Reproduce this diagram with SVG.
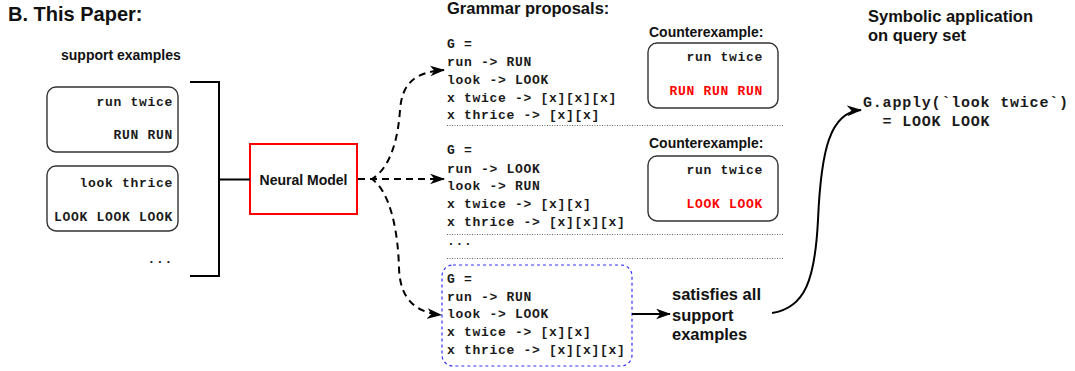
<svg xmlns="http://www.w3.org/2000/svg" width="1075" height="371" viewBox="0 0 1075 371">
<defs>
<style>
.t{font-family:"Liberation Sans",Arial,sans-serif;font-weight:bold;fill:#111}
.m{font-family:"Liberation Mono","Courier New",monospace;font-weight:bold;font-size:13px;letter-spacing:0.7px;fill:#1a1a1a}
.q{font-family:"Liberation Mono","Courier New",monospace;font-weight:bold;font-size:15px;letter-spacing:0.8px;fill:#1a1a1a}
.red{fill:#ff0000}
.box{fill:#fff;stroke:#333;stroke-width:1.4}
.dot{stroke:#666;stroke-width:1;stroke-dasharray:1 1.5;fill:none}
.dash{fill:none;stroke:#000;stroke-width:2;stroke-dasharray:7 5}
.solid{fill:none;stroke:#000;stroke-width:2}
</style>
<marker id="ah" viewBox="0 0 14 10" refX="13" refY="5" markerWidth="15" markerHeight="11" markerUnits="userSpaceOnUse" orient="auto">
<path d="M0,0 L14,5 L0,10 L4,5 Z" fill="#000" stroke="none"/>
</marker>
</defs>
<rect width="1075" height="371" fill="#fff"/>

<text class="t" x="8" y="21" font-size="20">B. This Paper:</text>
<text class="t" x="61" y="60" font-size="14">support examples</text>

<g id="support1">
<rect class="box" x="47" y="87" width="131" height="65" rx="9"/>
<text class="m" x="173" y="106" text-anchor="end">run twice</text>
<text class="m" x="173" y="139" text-anchor="end">RUN RUN</text>
</g>
<g id="support2">
<rect class="box" x="47" y="166" width="131" height="65" rx="9"/>
<text class="m" x="173" y="187" text-anchor="end">look thrice</text>
<text class="m" x="173" y="221" text-anchor="end">LOOK LOOK LOOK</text>
</g>
<text class="m" x="173" y="263" text-anchor="end">...</text>

<g id="neural">
<rect x="250" y="144" width="107" height="70" fill="#fff" stroke="#ff0000" stroke-width="2"/>
<text class="t" x="303.5" y="185" font-size="14" text-anchor="middle">Neural Model</text>
</g>

<text class="t" x="447" y="14" font-size="16.5">Grammar proposals:</text>

<g id="proposal1">
<text class="m" x="447" y="48">G =</text>
<text class="m" x="447" y="66">run -&gt; RUN</text>
<text class="m" x="447" y="83.5">look -&gt; LOOK</text>
<text class="m" x="447" y="101.5">x twice -&gt; [x][x][x]</text>
<text class="m" x="447" y="119">x thrice -&gt; [x][x]</text>
</g>
<g id="counter1">
<text class="t" x="649" y="37" font-size="14">Counterexample:</text>
<rect class="box" x="648" y="43" width="130" height="65" rx="9"/>
<text class="m" x="763" y="61" text-anchor="end">run twice</text>
<text class="m red" x="763" y="95" text-anchor="end">RUN RUN RUN</text>
</g>
<line class="dot" x1="447" y1="125.5" x2="783" y2="125.5"/>

<g id="proposal2">
<text class="m" x="447" y="154">G =</text>
<text class="m" x="447" y="172.5">run -&gt; LOOK</text>
<text class="m" x="447" y="190">look -&gt; RUN</text>
<text class="m" x="447" y="207.5">x twice -&gt; [x][x]</text>
<text class="m" x="447" y="225.5">x thrice -&gt; [x][x][x]</text>
</g>
<g id="counter2">
<text class="t" x="649" y="148" font-size="14">Counterexample:</text>
<rect class="box" x="648" y="156" width="130" height="65" rx="9"/>
<text class="m" x="763" y="174" text-anchor="end">run twice</text>
<text class="m red" x="763" y="208" text-anchor="end">LOOK LOOK</text>
</g>
<line class="dot" x1="447" y1="234.5" x2="783" y2="234.5"/>
<text class="m" x="447" y="245">...</text>
<line class="dot" x1="447" y1="258.5" x2="783" y2="258.5"/>

<g id="proposal3">
<rect x="442" y="265" width="190" height="101" rx="11" fill="none" stroke="#3333ff" stroke-width="1.2" stroke-dasharray="3 3"/>
<text class="m" x="447" y="283">G =</text>
<text class="m" x="447" y="300.5">run -&gt; RUN</text>
<text class="m" x="447" y="318">look -&gt; LOOK</text>
<text class="m" x="447" y="336">x twice -&gt; [x][x]</text>
<text class="m" x="447" y="353.5">x thrice -&gt; [x][x][x]</text>
</g>

<g id="satisfies">
<text class="t" font-size="16.5"><tspan x="672" y="300">satisfies all</tspan><tspan x="672" y="320.5">support</tspan><tspan x="672" y="340">examples</tspan></text>
</g>

<g id="query">
<text class="t" font-size="16.5"><tspan x="868" y="22">Symbolic application</tspan><tspan x="868" y="40.5">on query set</tspan></text>
<text class="q" x="863" y="107">G.apply(`look twice`)</text>
<text class="q" x="882.6" y="126">= LOOK LOOK</text>
</g>

<g id="connectors">
<polyline class="solid" points="190,82 219,82 219,276 190,276"/>
<line class="solid" x1="219" y1="179.5" x2="250" y2="179.5"/>
<path class="dash" d="M358,179 L372,179 C390,168 398,140 400,110 C402,84 414,72 444,70" marker-end="url(#ah)"/>
<path class="dash" d="M358,179 L444,179" marker-end="url(#ah)"/>
<path class="dash" d="M358,179 L372,179 C390,192 398,230 399,268 C400,298 414,312 441,315" marker-end="url(#ah)"/>
<path class="solid" d="M632,314 L670,314" marker-end="url(#ah)"/>
<path class="solid" d="M772,313 C805,308 815,280 818,220 C821,150 830,112 861,110" marker-end="url(#ah)"/>
</g>
</svg>
